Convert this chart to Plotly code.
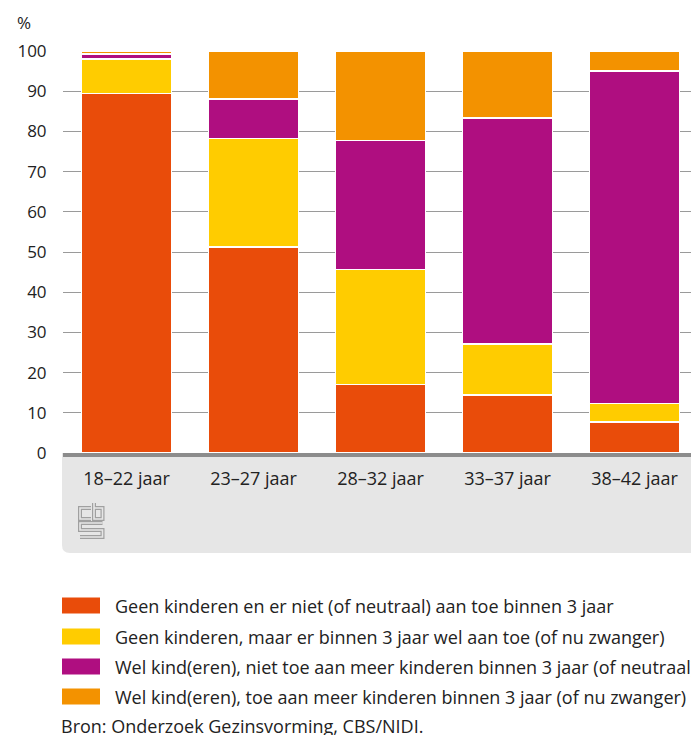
import plotly.graph_objects as go

# data
categories = ["18–22 jaar", "23–27 jaar", "28–32 jaar", "33–37 jaar", "38–42 jaar"]
series_names = [
    "Geen kinderen en er niet (of neutraal) aan toe binnen 3 jaar",
    "Geen kinderen, maar er binnen 3 jaar wel aan toe (of nu zwanger)",
    "Wel kind(eren), niet toe aan meer kinderen binnen 3 jaar (of neutraal)",
    "Wel kind(eren), toe aan meer kinderen binnen 3 jaar (of nu zwanger)",
]
geen_niet = [89.4, 51.3, 17.0, 14.4, 7.7]
geen_wel = [8.6, 26.9, 28.7, 12.7, 4.6]
wel_niet = [1.3, 9.8, 32.0, 56.2, 82.7]
wel_wel = [0.7, 12.0, 22.3, 16.7, 5.0]
colors = ["#E94C0A", "#FFCC00", "#AF0E80", "#F39200"]
y_ticks = [0, 10, 20, 30, 40, 50, 60, 70, 80, 90, 100]
source_text = "Bron: Onderzoek Gezinsvorming, CBS/NIDI."

W, H = 691, 735
L, R, T, B = 63, 0, 51, 282
PW = W - L - R
PH = H - T - B
FONT = "Open Sans, DejaVu Sans, sans-serif"
TEXT_COL = "#222222"
BAND_COL = "#E6E6E6"


def px(x):
    return (x - L) / PW


def py(y):
    return (H - B - y) / PH


fig = go.Figure()
for name, vals, col in zip(series_names, [geen_niet, geen_wel, wel_niet, wel_wel], colors):
    fig.add_trace(go.Bar(x=categories, y=vals, name=name, marker_color=col,
                         marker_line_color="white", marker_line_width=1.5,
                         hoverinfo="x+y+name"))

shapes = []
# grey band below the axis, rounded bottom-left corner
r = 8
shapes.append(dict(
    type="path", xref="paper", yref="paper", layer="below",
    path=(f"M {px(62)},{py(453)} L {px(691)},{py(453)} L {px(691)},{py(553)} "
          f"L {px(62 + r)},{py(553)} Q {px(62)},{py(553)} {px(62)},{py(553 - r)} Z"),
    fillcolor=BAND_COL, line=dict(width=0)))

# cbs logo, drawn as outlined strokes
logo_paths = [
    [(91, 508), (80, 508), (80, 519), (91, 519)],
    [(94, 503), (94, 519), (102.5, 519), (102.5, 508), (94, 508)],
    [(102.5, 523), (80, 523), (80, 530), (102.5, 530), (102.5, 537), (80, 537)],
]
for pts in logo_paths:
    d = "M " + " L ".join(f"{px(a)},{py(b)}" for a, b in pts)
    shapes.append(dict(type="path", xref="paper", yref="paper", path=d,
                       line=dict(color="#A0A0A0", width=4)))
    shapes.append(dict(type="path", xref="paper", yref="paper", path=d,
                       line=dict(color=BAND_COL, width=1.6)))

annotations = [dict(text="%", xref="paper", yref="paper", x=px(15), y=py(22),
                    xanchor="left", yanchor="middle", showarrow=False,
                    font=dict(family=FONT, size=17, color=TEXT_COL))]

# legend drawn by hand
legend_y = [605.5, 636.5, 666.5, 696.5]
for name, col, ly in zip(series_names, colors, legend_y):
    shapes.append(dict(type="rect", xref="paper", yref="paper",
                       x0=px(62), x1=px(100), y0=py(ly - 8), y1=py(ly + 8),
                       fillcolor=col, line=dict(width=0)))
    annotations.append(dict(text=name, xref="paper", yref="paper", x=px(113), y=py(ly),
                            xanchor="left", yanchor="middle", showarrow=False,
                            font=dict(family=FONT, size=18, color=TEXT_COL)))

annotations.append(dict(text=source_text, xref="paper", yref="paper", x=px(59), y=py(726),
                        xanchor="left", yanchor="middle", showarrow=False,
                        font=dict(family=FONT, size=18, color=TEXT_COL)))

fig.update_layout(
    width=W, height=H,
    margin=dict(l=L, r=R, t=T, b=B, autoexpand=False),
    barmode="stack", bargap=0.291,
    showlegend=False,
    plot_bgcolor="white", paper_bgcolor="white",
    font=dict(family=FONT, size=17, color=TEXT_COL),
    shapes=shapes, annotations=annotations,
    xaxis=dict(range=[-0.5, -0.5 + PW / 127], showgrid=False, showline=True,
               linecolor="#8C8C8C", linewidth=3.5, ticks="outside", ticklen=7,
               tickcolor="rgba(0,0,0,0)", tickfont=dict(size=18), fixedrange=True),
    yaxis=dict(range=[0, 100], tickvals=y_ticks, showgrid=True, gridcolor="#9A9A9A",
               gridwidth=1, zeroline=False, showline=False, ticks="outside", ticklen=12,
               tickcolor="rgba(0,0,0,0)", tickfont=dict(size=17), fixedrange=True),
)

# drop the default page margin so the figure sits at the top-left corner
fig.write_html("out.html", config={"displayModeBar": False},
               post_script="document.body.style.margin='0';")
